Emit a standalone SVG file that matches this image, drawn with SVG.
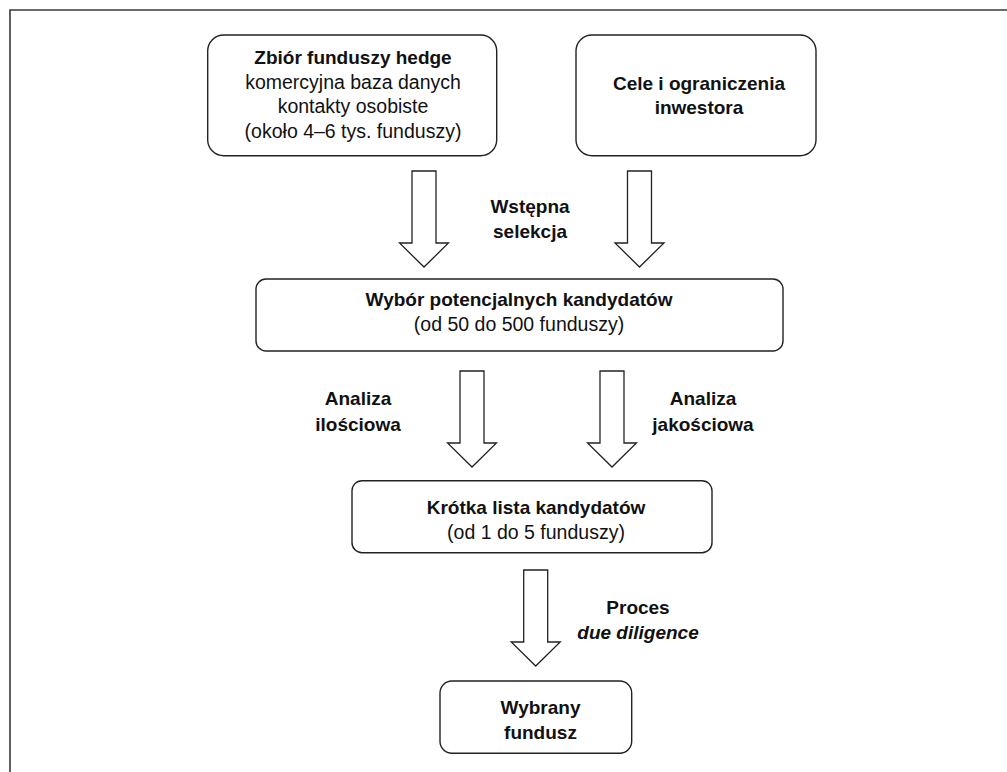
<svg xmlns="http://www.w3.org/2000/svg" xmlns:xlink="http://www.w3.org/1999/xlink" width="1007" height="772" viewBox="0 0 1007 772">
  <style>
    .box { fill: #ffffff; stroke: #222222; stroke-width: 1.4; }
    .arrow { fill: #ffffff; stroke: #222222; stroke-width: 1.3; stroke-linejoin: miter; }
    .frame { fill: none; stroke: #3a3a3a; stroke-width: 1.6; }
    text { font-family: "Liberation Sans", Arial, sans-serif; fill: #111111; text-anchor: middle; }
    .b { font-weight: bold; font-size: 19px; }
    .r { font-size: 19.5px; }
    .bi { font-weight: bold; font-style: italic; font-size: 19px; }
  </style>
  <defs>
    <path id="blockArrow" class="arrow" d="M-12,0 H12 V72 H24.5 L0,96 L-24.5,72 H-12 Z"/>
  </defs>
  <rect width="1007" height="772" fill="#ffffff"/>
  <path class="frame" d="M10,772 V10 H1007"/>

  <g id="node-zbior">
    <rect class="box" x="207.7" y="35" width="289" height="120.7" rx="16" ry="16"/>
    <text class="b" x="353" y="64">Zbiór funduszy hedge</text>
    <text class="r" x="353" y="88.7">komercyjna baza danych</text>
    <text class="r" x="353" y="113.3">kontakty osobiste</text>
    <text class="r" x="353" y="138">(około 4–6 tys. funduszy)</text>
  </g>

  <g id="node-cele">
    <rect class="box" x="576" y="35" width="240" height="120.7" rx="16" ry="16"/>
    <text class="b" x="699" y="90">Cele i ograniczenia</text>
    <text class="b" x="699" y="114.3">inwestora</text>
  </g>

  <g id="node-wybor">
    <rect class="box" x="256" y="279" width="527" height="72" rx="10" ry="10"/>
    <text class="b" x="519" y="306">Wybór potencjalnych kandydatów</text>
    <text class="r" x="519" y="331">(od 50 do 500 funduszy)</text>
  </g>

  <g id="node-krotka">
    <rect class="box" x="352" y="480.7" width="360" height="72" rx="10" ry="10"/>
    <text class="b" x="536" y="514">Krótka lista kandydatów</text>
    <text class="r" x="536" y="539">(od 1 do 5 funduszy)</text>
  </g>

  <g id="node-wybrany">
    <rect class="box" x="440" y="681" width="191.7" height="72.3" rx="12" ry="12"/>
    <text class="b" x="540.5" y="714">Wybrany</text>
    <text class="b" x="540.5" y="739">fundusz</text>
  </g>

  <g id="connectors">
    <use xlink:href="#blockArrow" href="#blockArrow" transform="translate(424,171)"/>
    <use xlink:href="#blockArrow" href="#blockArrow" transform="translate(639.5,171)"/>
    <use xlink:href="#blockArrow" href="#blockArrow" transform="translate(472,371)"/>
    <use xlink:href="#blockArrow" href="#blockArrow" transform="translate(612,371)"/>
    <use xlink:href="#blockArrow" href="#blockArrow" transform="translate(535.7,570)"/>
    <g id="labels">
      <text class="b" x="530" y="213">Wstępna</text>
      <text class="b" x="530" y="238">selekcja</text>
      <text class="b" x="358" y="405">Analiza</text>
      <text class="b" x="358" y="431">ilościowa</text>
      <text class="b" x="703" y="405">Analiza</text>
      <text class="b" x="703" y="431">jakościowa</text>
      <text class="b" x="638" y="614">Proces</text>
      <text class="bi" x="638" y="638.5">due diligence</text>
    </g>
  </g>
</svg>
